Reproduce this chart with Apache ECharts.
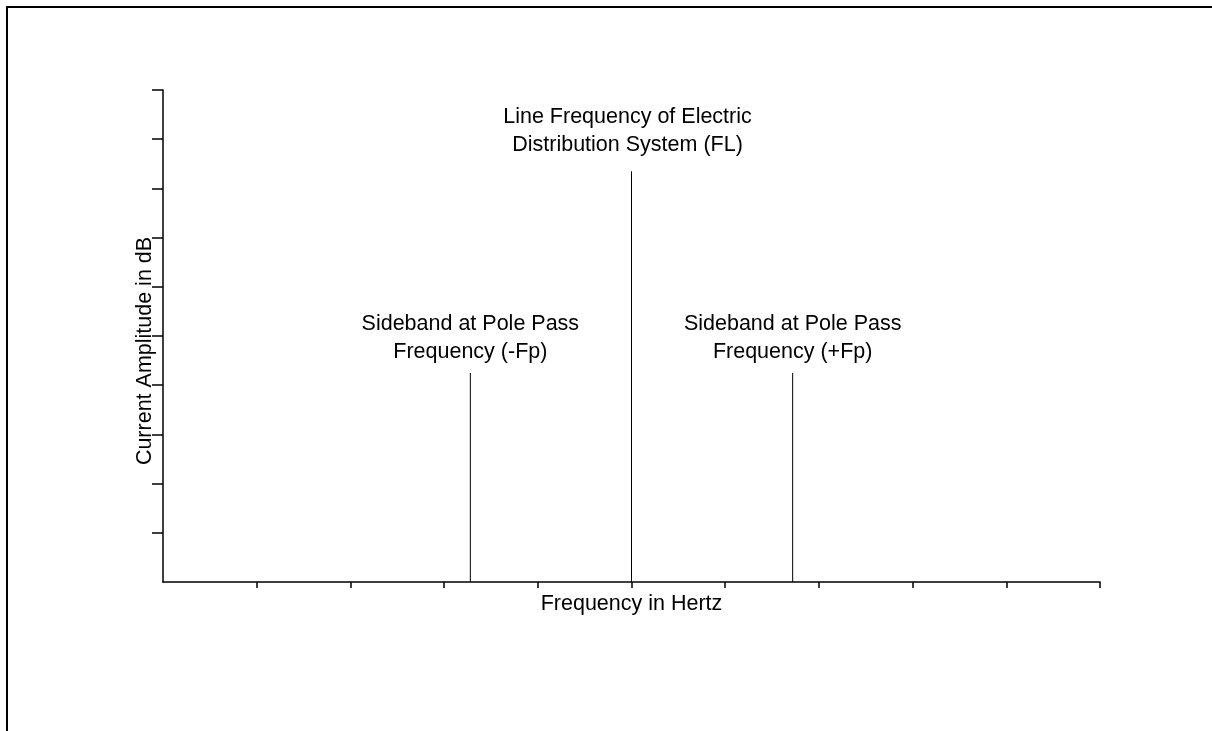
<!DOCTYPE html>
<html>
<head>
<meta charset="utf-8">
<script src="https://cdn.jsdelivr.net/npm/echarts@6/dist/echarts.min.js"></script>
<style>
  html, body { margin: 0; padding: 0; background: #fff; }
  #chart { width: 1212px; height: 731px; }
</style>
</head>
<body>
<div id="chart"></div>
<script>
// frequency positions of the spectral lines (axis units) and their amplitudes
var freqs = [3.28, 5, 6.72];
var amps = [4.25, 8.35, 4.25];
var lineNames = [
  'Sideband at Pole Pass\nFrequency (-Fp)',
  'Line Frequency of Electric\nDistribution System (FL)',
  'Sideband at Pole Pass\nFrequency (+Fp)'
];
// tick positions (no tick at the origin corner)
var xTicks = [1, 2, 3, 4, 5, 6, 7, 8, 9, 10];
var yTicks = [1, 2, 3, 4, 5, 6, 7, 8, 9, 10];
var xTitle = 'Frequency in Hertz';
var yTitle = 'Current Amplitude in dB';

var myChart = echarts.init(document.getElementById('chart'));

var barData = freqs.map(function (f, i) {
  return {
    value: [f, amps[i]],
    name: lineNames[i],
    label: i === 1 ? { distance: 12, offset: [-4, 0] } : { distance: 7 }
  };
});

var option = {
  backgroundColor: '#fff',
  animation: false,
  textStyle: { fontFamily: 'Liberation Sans, Arial, sans-serif' },
  graphic: [{
    type: 'rect',
    shape: { x: 7, y: 7, width: 1400, height: 900 },
    style: { fill: 'none', stroke: '#000', lineWidth: 2 },
    silent: true
  }],
  grid: { left: 163, top: 90, right: 112, bottom: 149, containLabel: false },
  xAxis: {
    type: 'value',
    min: 0, max: 10, interval: 1,
    name: xTitle,
    nameLocation: 'middle',
    nameGap: 11,
    nameTextStyle: { color: '#000', fontSize: 21.5 },
    axisLine: { show: true, lineStyle: { color: '#000', width: 1.5 } },
    axisTick: { show: true, length: 6, customValues: xTicks, lineStyle: { color: '#000', width: 1.5 } },
    axisLabel: { show: false },
    splitLine: { show: false }
  },
  yAxis: {
    type: 'value',
    min: 0, max: 10, interval: 1,
    name: yTitle,
    nameLocation: 'middle',
    nameGap: 7,
    nameTextStyle: { color: '#000', fontSize: 21.5, padding: [0, 30, 0, 0] },
    axisLine: { show: true, lineStyle: { color: '#000', width: 1.5 } },
    axisTick: { show: true, length: 11, customValues: yTicks, lineStyle: { color: '#000', width: 1.5 } },
    axisLabel: { show: false },
    splitLine: { show: false }
  },
  series: [{
    type: 'bar',
    barWidth: 1,
    data: barData,
    itemStyle: { color: '#000' },
    label: {
      show: true,
      position: 'top',
      formatter: function (p) { return p.name; },
      color: '#000',
      fontSize: 21.5,
      lineHeight: 28,
      align: 'center'
    }
  }]
};

myChart.setOption(option);
</script>
</body>
</html>
